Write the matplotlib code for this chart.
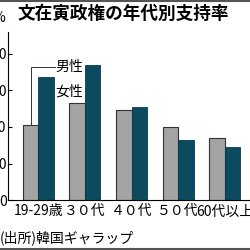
import matplotlib
matplotlib.use("Agg")
import matplotlib.pyplot as plt
import numpy as np

plt.rcParams["font.family"] = ["Noto Sans CJK JP", "DejaVu Sans"]

TITLE = "文在寅政権の年代別支持率"
SOURCE = "(出所)韓国ギャラップ"

age_groups = ["19-29歳", "３０代", "４０代", "５０代", "60代以上"]
male = [41, 53, 49, 40, 34]
female = [67, 74, 51, 33, 29]
y_ticks = [0, 20, 40, 60, 80]

GRAY = "#a4a4a4"
TEAL = "#0c4a5f"

fig = plt.figure(figsize=(2.5, 2.5), dpi=100)
ax = fig.add_axes([0.032, 0.199, 1.0, 0.673])

x = np.arange(len(age_groups))
w = 0.333
ax.bar(x - w / 2, male, w, color=GRAY, edgecolor="#333333", linewidth=0.8)
ax.bar(x + w / 2, female, w, color=TEAL, edgecolor="#0a3a4a", linewidth=0.6)

ax.set_xlim(-0.65, 4.71)
ax.set_ylim(0, 91.8)
ax.set_yticks(y_ticks)
ax.set_yticklabels([str(v) for v in y_ticks], fontsize=10)
ax.tick_params(axis="y", direction="in", length=3, pad=1, width=0.8)
ax.set_xticks(x)
ax.set_xticklabels(age_groups, fontsize=10)
ax.tick_params(axis="x", length=0, pad=3)
for side in ["top", "right"]:
    ax.spines[side].set_visible(False)
ax.spines["left"].set_linewidth(0.8)
ax.spines["bottom"].set_linewidth(0.8)

# legend labels, male one with a leader line to its bar
ax.plot([x[0] - w / 2, x[0] - w / 2, 0.35], [male[0], 72.9, 72.9], color="#333333", lw=0.7)
ax.text(0.36, 72.6, "男性", fontsize=10, va="center", ha="left")
ax.text(0.36, 59.3, "女性", fontsize=10, va="center", ha="left")

fig.text(0.072, 0.944, TITLE, fontsize=12.7, fontweight="bold", va="center", ha="left")
fig.text(0.02, 0.93, "%", fontsize=10, va="center", ha="right")
fig.text(-0.002, 0.048, SOURCE, fontsize=10, va="center", ha="left")

fig.add_artist(plt.Line2D([0, 1], [0.998, 0.998], color="#555555", lw=1.5))
fig.add_artist(plt.Line2D([0, 1], [0.006, 0.006], color="#555555", lw=1.5))

fig.savefig("out.png", dpi=100)
